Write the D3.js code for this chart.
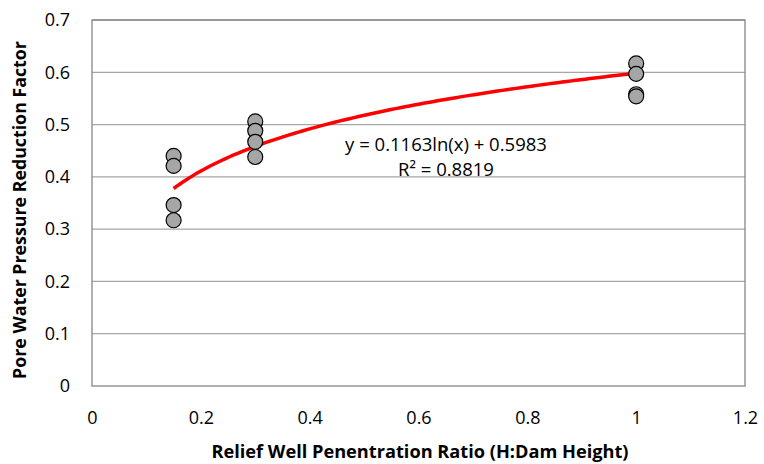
<!DOCTYPE html>
<html>
<head>
<meta charset="utf-8">
<script src="https://cdn.jsdelivr.net/npm/d3@7"></script>
<style>
  html, body { margin: 0; padding: 0; background: #fff; }
  svg { display: block; }
  text { font-family: "Open Sans", sans-serif; fill: #000; }
</style>
</head>
<body>
<svg id="chart" width="764" height="464"></svg>
<script>
const xValues = [0.15, 0.15, 0.15, 0.15, 0.3, 0.3, 0.3, 0.3, 1, 1, 1, 1];
const yValues = [0.440, 0.421, 0.346, 0.317, 0.506, 0.488, 0.467, 0.438, 0.617, 0.597, 0.558, 0.554];
const xTicks = [0, 0.2, 0.4, 0.6, 0.8, 1, 1.2];
const xTickLabels = ["0", "0.2", "0.4", "0.6", "0.8", "1", "1.2"];
const yTicks = [0, 0.1, 0.2, 0.3, 0.4, 0.5, 0.6, 0.7];
const yTickLabels = ["0", "0.1", "0.2", "0.3", "0.4", "0.5", "0.6", "0.7"];
const trendCoef = [0.1163, 0.5983];
const trendRange = [0.15, 1];
const equationLines = ["y = 0.1163ln(x) + 0.5983", "R\u00B2 = 0.8819"];

const svg = d3.select("#chart");
const pLeft = 92, pRight = 745, pTop = 20, pBottom = 386;
const x = d3.scaleLinear().domain([0, 1.2]).range([pLeft, pRight]);
const y = d3.scaleLinear().domain([0, 0.7]).range([pBottom, pTop]);

// gridlines
svg.append("g").selectAll("line").data(yTicks.slice(1)).join("line")
  .attr("x1", pLeft).attr("x2", pRight)
  .attr("y1", d => y(d)).attr("y2", d => y(d))
  .attr("stroke", "#a6a6a6").attr("stroke-width", 1.3);

// plot border
svg.append("rect").attr("x", pLeft).attr("y", pTop)
  .attr("width", pRight - pLeft).attr("height", pBottom - pTop)
  .attr("fill", "none").attr("stroke", "#868686").attr("stroke-width", 1.3);

// axes (labels only)
const yAxis = d3.axisLeft(y).tickValues(yTicks).tickSize(0).tickPadding(22)
  .tickFormat((d, i) => yTickLabels[i]);
const gy = svg.append("g").attr("transform", `translate(${pLeft},0)`).call(yAxis);
gy.select(".domain").remove();
gy.selectAll("text").style("font-size", "18px").style("font-family", "'Open Sans', sans-serif");

const xAxis = d3.axisBottom(x).tickValues(xTicks).tickSize(0).tickPadding(25)
  .tickFormat((d, i) => xTickLabels[i]);
const gx = svg.append("g").attr("transform", `translate(0,${pBottom})`).call(xAxis);
gx.select(".domain").remove();
gx.selectAll("text").style("font-size", "18px").style("font-family", "'Open Sans', sans-serif");

// trendline
const trendData = d3.range(0, 101).map(i => {
  const xv = trendRange[0] + (trendRange[1] - trendRange[0]) * i / 100;
  return [xv, trendCoef[0] * Math.log(xv) + trendCoef[1]];
});
svg.append("path").datum(trendData)
  .attr("fill", "none").attr("stroke", "#ff0000").attr("stroke-width", 3.5)
  .attr("d", d3.line().x(d => x(d[0])).y(d => y(d[1])));

// points
svg.append("g").selectAll("circle").data(xValues.map((v, i) => [v, yValues[i]])).join("circle")
  .attr("cx", d => x(d[0])).attr("cy", d => y(d[1])).attr("r", 7.5)
  .attr("fill", "#a6a6a6").attr("stroke", "#000").attr("stroke-width", 1.2);

// equation
svg.append("g").selectAll("text").data(equationLines).join("text")
  .attr("x", 446).attr("y", (d, i) => 151 + i * 25)
  .attr("text-anchor", "middle").style("font-size", "18.5px")
  .text(d => d);

// axis titles
svg.append("text").attr("x", 420).attr("y", 458).attr("text-anchor", "middle")
  .style("font-size", "18.2px").style("font-weight", "bold")
  .text("Relief Well Penentration Ratio (H:Dam Height)");
svg.append("text").attr("transform", "translate(26,210) rotate(-90)").attr("text-anchor", "middle")
  .style("font-size", "17.8px").style("font-weight", "bold")
  .text("Pore Water Pressure Reduction Factor");
</script>
</body>
</html>
